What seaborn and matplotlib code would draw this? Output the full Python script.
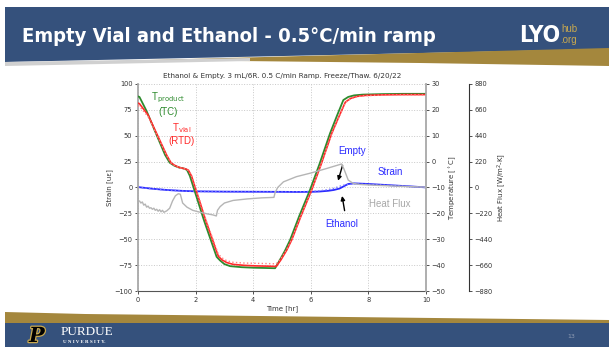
import numpy as np
import pandas as pd
import matplotlib
matplotlib.use("Agg")
import matplotlib.pyplot as plt
from matplotlib.patches import Polygon
import matplotlib.patheffects as pe
import seaborn as sns

# ---------------- data ----------------
# Product thermocouple (TC), degC
t_tc = [0, 0.05, 0.3, 0.6, 0.94, 1.1, 1.25, 1.4, 1.6, 1.7, 1.8, 1.92, 2.3, 2.73, 2.85,
        3.0, 3.2, 3.6, 4.0, 4.4, 4.76, 4.9, 5.1, 5.28, 5.6, 5.97, 6.3, 6.67, 6.9, 7.13,
        7.3, 7.5, 7.8, 8.5, 9.2, 10]
temp_tc = [25.2, 25.0, 19.5, 11.5, 2.6, -0.4, -1.5, -2.2, -2.7, -3.2, -5.5, -9.7, -23.0,
           -36.8, -38.2, -39.6, -40.4, -40.8, -41.0, -41.1, -41.2, -38.5, -34.5, -30.3,
           -21.0, -11.0, -1.0, 11.0, 17.5, 23.8, 25.0, 25.6, 25.9, 26.1, 26.2, 26.2]

# Vial RTDs, degC
t_rtd = [0, 0.05, 0.35, 0.65, 1.0, 1.15, 1.3, 1.45, 1.65, 1.75, 1.86, 1.98, 2.36, 2.79,
         2.92, 3.08, 3.3, 3.7, 4.1, 4.5, 4.8, 4.96, 5.16, 5.34, 5.66, 6.03, 6.36, 6.73,
         6.97, 7.2, 7.38, 7.6, 7.9, 8.5, 9.2, 10]
temp_rtd = [22.6, 22.4, 18.0, 10.8, 2.4, -0.5, -1.6, -2.3, -2.8, -3.3, -5.6, -9.8, -23.0,
            -36.6, -38.0, -39.0, -39.7, -40.1, -40.3, -40.4, -40.5, -38.0, -34.3, -30.2,
            -21.0, -11.0, -1.0, 11.0, 17.2, 23.0, 24.4, 25.2, 25.6, 25.8, 25.9, 25.9]
temp_rtd2 = [21.6, 21.4, 17.4, 10.4, 2.2, -0.6, -1.7, -2.4, -2.9, -3.4, -5.5, -9.5, -22.5,
             -35.8, -37.2, -38.3, -38.9, -39.2, -39.3, -39.4, -39.5, -37.4, -34.0, -30.0,
             -20.8, -10.9, -1.0, 10.8, 17.0, 22.8, 24.3, 25.1, 25.5, 25.7, 25.8, 25.8]

# Strain gauges, microstrain
t_strain = [0, 0.5, 1, 1.5, 2, 3, 4, 5, 5.5, 6, 6.3, 6.6, 6.8, 7.0, 7.1, 7.2, 7.3, 7.5,
            8, 8.5, 9, 9.5, 10]
strain_ethanol = [0.4, -1.2, -2.4, -3.2, -3.7, -4.0, -4.1, -4.2, -4.3, -4.2, -3.9, -3.2,
                  -2.4, -1.0, 0.5, 2.0, 3.4, 4.0, 3.4, 2.6, 1.8, 1.0, 0.1]
strain_empty = [0.3, -1.3, -2.5, -3.3, -3.8, -4.1, -4.2, -4.2, -4.1, -3.8, -3.2, -2.0,
                -0.8, 1.2, 2.0, 2.6, 3.2, 3.5, 3.0, 2.4, 1.7, 0.9, 0.0]

# Heat flux sensor, W/m^2-K
t_flux = [0.05, 0.1, 0.15, 0.2, 0.25, 0.3, 0.35, 0.4, 0.45, 0.5, 0.55, 0.6, 0.65, 0.7,
          0.75, 0.8, 0.85, 0.9, 1.0, 1.1, 1.2, 1.3, 1.4, 1.47, 1.55, 1.7, 1.9, 2.1, 2.4,
          2.6, 2.72, 2.76, 2.85, 3.0, 3.3, 3.8, 4.3, 4.72, 4.76, 4.85, 5.05, 5.5, 6.0,
          6.5, 7.07, 7.15, 7.3, 7.47, 7.7, 8.05, 9.0, 10]
heat_flux = [-114, -132, -123, -150, -141, -167, -158, -176, -172, -185, -176, -194, -185,
             -202, -189, -207, -194, -211, -198, -176, -114, -70, -53, -57, -132, -167,
             -194, -207, -224, -233, -242, -194, -163, -132, -110, -97, -88, -84, -44, 0,
             48, 92, 123, 158, 200, 158, 63, 35, 26, 21, 11, 3]

strain_ticks = [-100, -75, -50, -25, 0, 25, 50, 75, 100]
temp_ticks = [-50, -40, -30, -20, -10, 0, 10, 20, 30]
flux_ticks = [-880, -660, -440, -220, 0, 220, 440, 660, 880]
time_ticks = [0, 2, 4, 6, 8, 10]

# ---------------- style ----------------
sns.set_theme(style="white")
plt.rcParams["font.family"] = ["DejaVu Sans"]
plt.rcParams["axes.unicode_minus"] = True

W, H = 609, 347
fig = plt.figure(figsize=(W / 100, H / 100), dpi=100)
fig.patch.set_facecolor("white")

# slide frame
bg = fig.add_axes([0, 0, 1, 1], zorder=-5)
bg.set_xlim(0, W)
bg.set_ylim(H, 0)
bg.axis("off")
blue = "#35517c"
gold = "#a4873d"
bg.add_patch(Polygon([(5, 7), (W, 7), (W, 49), (5, 62)], closed=True, fc=blue, ec="none"))
bg.add_patch(Polygon([(150, 60), (W, 48), (W, 66), (420, 63)], closed=True, fc=gold, ec="none"))
bg.add_patch(Polygon([(5, 62), (250, 58), (250, 61), (5, 66)], closed=True, fc="#d0d0d0", ec="none"))
bg.add_patch(Polygon([(5, 312), (85, 314), (W, 320), (W, 324), (5, 324)], closed=True,
                     fc=gold, ec="none"))
bg.add_patch(Polygon([(5, 323), (W, 323), (W, H), (5, H)], closed=True, fc=blue, ec="none"))

condensed = ["DejaVu Sans Condensed", "DejaVu Sans"]
bg.text(22, 36, "Empty Vial and Ethanol - 0.5\u00b0C/min ramp", color="white",
        fontsize=14.5, fontweight="bold", fontstretch="condensed", va="center",
        ha="left", family=condensed)
bg.text(519, 35, "LYO", color="white", fontsize=16.5, fontweight="bold",
        fontstretch="condensed", va="center", ha="left", family=condensed)
bg.text(561, 29, "hub", color="#c9a94f", fontsize=7, va="center", ha="left",
        family=["Liberation Sans", "DejaVu Sans"])
bg.text(560, 40, ".org", color="#c9a94f", fontsize=7, va="center", ha="left",
        family=["Liberation Sans", "DejaVu Sans"])

bg.text(29, 336, "P", color="black", fontsize=15, fontweight="bold", fontstyle="italic",
        va="center", ha="left", family=["DejaVu Serif"],
        path_effects=[pe.withStroke(linewidth=1.8, foreground="#c9a94f")])
bg.text(61, 332, "PURDUE", color="white", fontsize=9.5, va="center", ha="left",
        family=["Liberation Serif", "DejaVu Serif"])
bg.text(63, 342, "U N I V E R S I T Y.", color="white", fontsize=3.6, fontweight="bold",
        va="center", ha="left", family=["Liberation Serif", "DejaVu Serif"])
bg.text(567, 336, "13", color="#8e9bb3", fontsize=4.5, va="center", ha="left")

# ---------------- chart ----------------
ax = fig.add_axes([138 / W, 1 - 291 / H, 288 / W, 207 / H])
ax_t = ax.twinx()
ax_h = ax.twinx()
ax_h.spines["right"].set_position(("axes", 331 / 288))

df_flux = pd.DataFrame({"t": t_flux, "q": heat_flux})
df_tc = pd.DataFrame({"t": t_tc, "T": temp_tc})
df_rtd = pd.DataFrame({"t": t_rtd, "T": temp_rtd, "T2": temp_rtd2})
df_strain = pd.DataFrame({"t": t_strain, "eth": strain_ethanol, "emp": strain_empty})

sns.lineplot(data=df_flux, x="t", y="q", ax=ax_h, color="#b5b5b5", lw=1.0, sort=False)
sns.lineplot(data=df_strain, x="t", y="eth", ax=ax, color="#2b2bff", lw=1.3)
sns.lineplot(data=df_strain, x="t", y="emp", ax=ax, color="#7a7aff", lw=1.0, linestyle=":")
sns.lineplot(data=df_tc, x="t", y="T", ax=ax_t, color="#2e8b2e", lw=1.3)
sns.lineplot(data=df_rtd, x="t", y="T", ax=ax_t, color="#ff2a2a", lw=1.2)
sns.lineplot(data=df_rtd, x="t", y="T2", ax=ax_t, color="#ff8080", lw=1.0, linestyle=":")

ax.set_xlim(0, 10)
ax.set_ylim(-100, 100)
ax_t.set_ylim(-50, 30)
ax_h.set_ylim(-880, 880)
ax.set_xticks(time_ticks)
ax.set_yticks(strain_ticks)
ax_t.set_yticks(temp_ticks)
ax_h.set_yticks(flux_ticks)

ax.grid(True, linestyle=":", color="#c8c8c8", lw=0.7)
tick_kw = dict(labelsize=4.8, length=2.5, width=0.6, colors="#333333", pad=1.5)
ax.tick_params(axis="both", **tick_kw)
ax.tick_params(axis="both", left=True, bottom=True)
ax_t.tick_params(axis="y", right=True, **tick_kw)
ax_h.tick_params(axis="y", right=True, **tick_kw)

ax.set_xlabel("Time [hr]", fontsize=5, color="#333333", labelpad=2)
ax.set_ylabel("Strain [u\u03b5]", fontsize=5, color="#333333", labelpad=1)
ax_t.set_ylabel("Temperature [$^\\circ$C]", fontsize=5, color="#333333", labelpad=2)
ax_h.set_ylabel("Heat Flux [W/m$^2$-K]", fontsize=5, color="#333333", labelpad=2)
ax.set_title("Ethanol & Empty. 3 mL/6R. 0.5 C/min Ramp. Freeze/Thaw. 6/20/22",
             fontsize=5.2, color="#333333", pad=4)

for a in (ax, ax_t, ax_h):
    a.spines["top"].set_visible(False)
ax.spines["left"].set_color("#a8a8a8")
ax.spines["left"].set_linewidth(1.3)
ax.spines["bottom"].set_color("#555555")
ax.spines["bottom"].set_linewidth(0.8)
ax_t.spines["right"].set_color("#a8a8a8")
ax_t.spines["right"].set_linewidth(1.3)
ax_h.spines["right"].set_color("#333333")
ax_h.spines["right"].set_linewidth(0.8)
for a in (ax_t, ax_h):
    a.spines["left"].set_visible(False)
    a.spines["bottom"].set_visible(False)
ax.spines["right"].set_visible(False)

# annotations
ann = dict(family=["Liberation Sans", "DejaVu Sans"], fontsize=7, ha="center", va="center")
ax.text(1.03, 86.5, "T$_{\\mathrm{product}}$", color="#2e8b2e", **ann)
ax.text(1.03, 73, "(TC)", color="#2e8b2e", **ann)
ax.text(1.52, 57, "T$_{\\mathrm{vial}}$", color="#ff2a2a", **ann)
ax.text(1.52, 44.5, "(RTD)", color="#ff2a2a", **ann)
ax.text(7.43, 35, "Empty", color="#2b2bff", **ann)
ax.text(8.75, 15, "Strain", color="#2b2bff", **ann)
ax.text(8.75, -16, "Heat Flux", color="#a8a8a8", **ann)
ax.text(7.08, -35, "Ethanol", color="#2b2bff", **ann)
arrow = dict(arrowstyle="-|>", color="black", lw=1.0, mutation_scale=6)
ax.annotate("", xy=(6.92, 4), xytext=(7.13, 24), arrowprops=arrow)
ax.annotate("", xy=(7.07, -5.5), xytext=(7.19, -25), arrowprops=arrow)

fig.savefig("out.png", dpi=100, facecolor="white")
